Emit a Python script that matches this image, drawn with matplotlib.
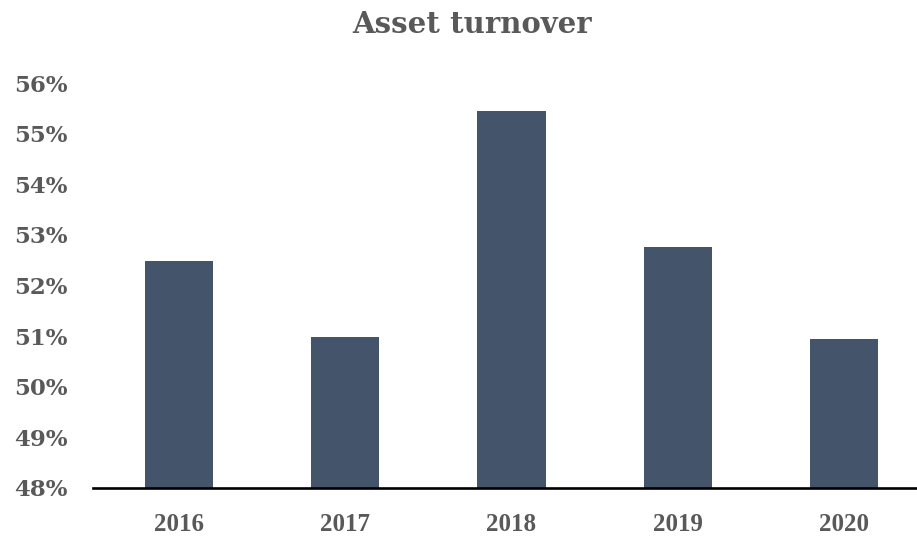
import matplotlib.pyplot as plt
from matplotlib.ticker import FuncFormatter

years = ["2016", "2017", "2018", "2019", "2020"]
turnover = [52.49, 50.98, 55.45, 52.76, 50.94]
y_ticks = [48, 49, 50, 51, 52, 53, 54, 55, 56]

bar_color = "#44546A"
text_color = "#595959"

plt.rcParams["font.family"] = ["DejaVu Serif"]

fig = plt.figure(figsize=(9.17, 5.4), dpi=100)
ax = fig.add_axes([0.101, 0.0963, 0.899, 0.7497])

x = range(len(years))
ax.bar(x, turnover, width=0.41, color=bar_color, zorder=2)

ax.set_ylim(48, 56)
ax.set_xlim(-0.52, 4.44)
ax.set_yticks(y_ticks)
ax.yaxis.set_major_formatter(FuncFormatter(lambda v, p: f"{v:.0f}%"))
ax.set_xticks(list(x))
ax.set_xticklabels(years)

for s in ["top", "right", "left"]:
    ax.spines[s].set_visible(False)
ax.spines["bottom"].set_color("black")
ax.spines["bottom"].set_linewidth(1.9)
ax.spines["bottom"].set_zorder(3)

ax.tick_params(axis="y", length=0, pad=18, labelsize=16.5, labelcolor=text_color)
ax.tick_params(axis="x", length=0, pad=18, labelcolor=text_color)
for lab in ax.get_yticklabels():
    lab.set_fontweight("bold")
for lab in ax.get_xticklabels():
    lab.set_fontfamily("Liberation Serif")
    lab.set_fontweight("bold")
    lab.set_fontsize(18)

fig.text(0.515, 0.955, "Asset turnover", ha="center", va="center",
         fontsize=21, fontweight="bold", color=text_color)

fig.savefig("out.png", dpi=100)
